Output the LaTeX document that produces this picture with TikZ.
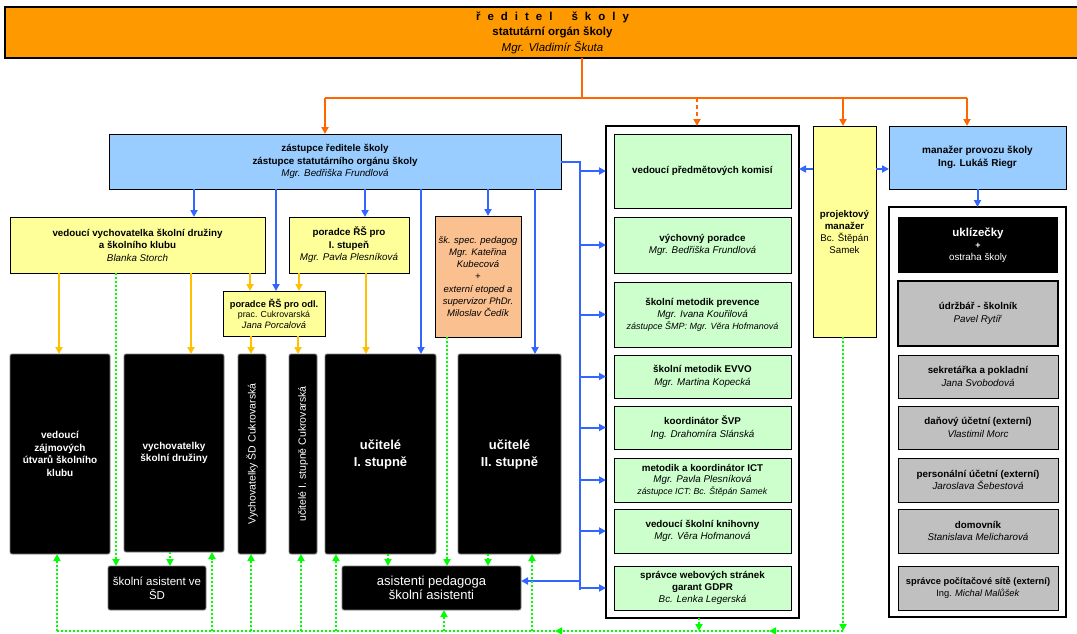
\documentclass[tikz,border=0pt]{standalone}
\usepackage{fontspec}
\setmainfont{Liberation Sans}
\usetikzlibrary{arrows.meta}
\definecolor{dirorange}{HTML}{FF9900}
\definecolor{lineorange}{HTML}{FF6600}
\definecolor{boxblue}{HTML}{99CCFF}
\definecolor{lineblue}{HTML}{3366FF}
\definecolor{boxyellow}{HTML}{FFFF99}
\definecolor{linegold}{HTML}{FFC000}
\definecolor{boxgreen}{HTML}{CCFFCC}
\definecolor{boxgray}{HTML}{C0C0C0}
\definecolor{boxpeach}{HTML}{FAC090}
\definecolor{dotgreen}{HTML}{00FF00}
\tikzset{
 base/.style={inner sep=0pt, outer sep=0pt, align=center},
 dirbox/.style={base, draw, line width=1.5pt, fill=dirorange},
 bluebox/.style={base, draw, line width=1pt, fill=boxblue},
 yelbox/.style={base, draw, line width=1pt, fill=boxyellow},
 peachbox/.style={base, draw, line width=1pt, fill=boxpeach},
 blackbox/.style={base, draw=gray, line width=0.8pt, fill=black, text=white, rounded corners=2pt},
 greenbox/.style={base, draw, line width=0.8pt, fill=boxgreen},
 graybox/.style={base, draw, line width=0.8pt, fill=boxgray},
 framebox/.style={draw, line width=1.5pt, inner sep=0pt, outer sep=0pt},
 tip/.style={-{Triangle[length=7pt,width=7pt]}},
 oline/.style={draw=lineorange, line width=2pt},
 oarrow/.style={oline, tip},
 bline/.style={draw=lineblue, line width=2pt},
 barrow/.style={bline, tip},
 garrow/.style={draw=linegold, line width=2pt, tip},
 gdot/.style={draw=dotgreen, line width=2pt, dash pattern=on 2pt off 2pt},
 gdotarrow/.style={gdot, tip},
 tnorm/.style={font=\fontsize{9.8}{12.5}\selectfont},
}
\begin{document}
\begin{tikzpicture}[x=1pt,y=-1pt]
\useasboundingbox (0,0) rectangle (1077,634);
\fill[white] (0,0) rectangle (1077,634);

% director
\node[dirbox, minimum width=1095, minimum height=51, font=\fontsize{11.5}{15.5}\selectfont] (dir) at (552.5,32.5)
 {\textbf{ř\kern7pt e\kern7pt d\kern7pt i\kern7pt t\kern7pt e\kern7pt l\kern19pt š\kern7pt k\kern7pt o\kern7pt l\kern7pt y}\\
  \textbf{statutární orgán školy}\\ \textit{Mgr. Vladimír Škuta}};

% deputy
\node[bluebox, minimum width=452, minimum height=55, tnorm] (zast) at (335,161.5)
 {\textbf{zástupce ředitele školy}\\ \textbf{zástupce statutárního orgánu školy}\\ \textit{Mgr. Bedřiška Frundlová}};

% second level
\node[yelbox, minimum width=255, minimum height=56, tnorm] (vych) at (137.5,245)
 {\textbf{vedoucí vychovatelka školní družiny}\\ \textbf{a školního klubu}\\ \textit{Blanka Storch}};
\node[yelbox, minimum width=120, minimum height=56, tnorm] (poradI) at (349,245)
 {\textbf{poradce ŘŠ pro}\\ \textbf{I. stupeň}\\ \textit{Mgr. Pavla Plesníková}};
\node[yelbox, minimum width=102, minimum height=45, font=\fontsize{9.3}{10.5}\selectfont] (poradOdl) at (274,313.5)
 {\textbf{poradce ŘŠ pro odl.}\\ {\fontsize{8.8}{10.5}\selectfont prac. Cukrovarská}\\ \textit{Jana Porcalová}};
\node[peachbox, minimum width=86, minimum height=121, font=\fontsize{9.5}{12.3}\selectfont\itshape] (spec) at (478,276.5)
 {šk. spec. pedagog\\ Mgr. Kateřina\\ Kubecová\\ +\\ externí etoped a\\ supervizor PhDr.\\ Miloslav Čedík};

% black boxes
\node[blackbox, minimum width=100, minimum height=200, font=\fontsize{10}{12.5}\selectfont\bfseries] (zajm) at (60,454)
 {vedoucí\\ zájmových\\ útvarů školního\\ klubu};
\node[blackbox, minimum width=100, minimum height=198, font=\fontsize{10}{12.5}\selectfont\bfseries] (vychSD) at (174,453)
 {vychovatelky\\ školní družiny};
\node[blackbox, minimum width=28, minimum height=200] (vychCuk) at (252,454) {};
\node[text=white, rotate=90, font=\fontsize{10.5}{12}\selectfont] at (vychCuk.center) {Vychovatelky ŠD Cukrovarská};
\node[blackbox, minimum width=28, minimum height=200] (ucitCuk) at (303,454) {};
\node[text=white, rotate=90, font=\fontsize{10.5}{12}\selectfont] at (ucitCuk.center) {učitelé I. stupně Cukrovarská};
\node[blackbox, minimum width=111, minimum height=200, font=\fontsize{13}{17}\selectfont\bfseries] (ucitI) at (380.5,454)
 {učitelé\\ I. stupně};
\node[blackbox, minimum width=103, minimum height=200, font=\fontsize{13}{17}\selectfont\bfseries] (ucitII) at (509.5,454)
 {učitelé\\ II. stupně};
\node[blackbox, minimum width=98, minimum height=44, font=\fontsize{11.5}{14}\selectfont] (asistSD) at (157,588)
 {školní asistent ve\\ ŠD};
\node[blackbox, minimum width=179, minimum height=44, font=\fontsize{13}{14.5}\selectfont] (asistPed) at (431.5,588)
 {asistenti pedagoga\\ školní asistenti};

% middle list
\node[framebox, minimum width=193, minimum height=492] (list) at (702.5,372) {};
\node[greenbox, minimum width=177, minimum height=74, tnorm] (g1) at (702.5,171) {\textbf{vedoucí předmětových komisí}};
\node[greenbox, minimum width=177, minimum height=56, tnorm] (g2) at (702.5,245)
 {\textbf{výchovný poradce}\\ \textit{Mgr. Bedřiška Frundlová}};
\node[greenbox, minimum width=177, minimum height=65, font=\fontsize{9.8}{12}\selectfont] (g3) at (702.5,314.5)
 {\textbf{školní metodik prevence}\\ \textit{Mgr. Ivana Kouřilová}\\ {\fontsize{9}{12}\selectfont\textit{zástupce ŠMP: Mgr. Věra Hofmanová}}};
\node[greenbox, minimum width=177, minimum height=43, tnorm] (g4) at (702.5,376.5)
 {\textbf{školní metodik EVVO}\\ \textit{Mgr. Martina Kopecká}};
\node[greenbox, minimum width=177, minimum height=43, tnorm] (g5) at (702.5,427.5)
 {\textbf{koordinátor ŠVP}\\ \textit{Ing. Drahomíra Slánská}};
\node[greenbox, minimum width=177, minimum height=44, font=\fontsize{9.8}{11.5}\selectfont] (g6) at (702.5,480)
 {\textbf{metodik a koordinátor ICT}\\ \textit{Mgr. Pavla Plesníková}\\ {\fontsize{8.8}{11}\selectfont\textit{zástupce ICT: Bc. Štěpán Samek}}};
\node[greenbox, minimum width=177, minimum height=44, tnorm] (g7) at (702.5,531)
 {\textbf{vedoucí školní knihovny}\\ \textit{Mgr. Věra Hofmanová}};
\node[greenbox, minimum width=177, minimum height=44, font=\fontsize{9.8}{11.8}\selectfont] (g8) at (702.5,588)
 {\textbf{správce webových stránek}\\ \textbf{garant GDPR}\\ \textit{Bc. Lenka Legerská}};

% project manager
\node[yelbox, minimum width=63, minimum height=211, font=\fontsize{9.7}{12}\selectfont] (proj) at (844.5,231.5)
 {\textbf{projektový}\\ \textbf{manažer}\\ Bc. Štěpán\\ Samek};

% operations
\node[bluebox, minimum width=177, minimum height=63, font=\fontsize{10}{13}\selectfont] (manProv) at (977.5,157.5)
 {\textbf{manažer provozu školy}\\ \textbf{Ing. Lukáš Riegr}};
\node[framebox, minimum width=177, minimum height=410] (rlist) at (977.5,412) {};
\node[base, fill=black, text=white, minimum width=160, minimum height=56] (r1) at (978,245)
 {{\fontsize{11.5}{14}\selectfont\bfseries uklízečky}\\ {\fontsize{9}{13}\selectfont\bfseries +}\\ {\fontsize{9.8}{12.5}\selectfont ostraha školy}};
\node[graybox, line width=1.5pt, minimum width=160, minimum height=65, tnorm] (r2) at (978,313.5)
 {\textbf{údržbář - školník}\\ \textit{Pavel Rytíř}};
\node[graybox, minimum width=160, minimum height=43, tnorm] (r3) at (978,376.5)
 {\textbf{sekretářka a pokladní}\\ \textit{Jana Svobodová}};
\node[graybox, minimum width=160, minimum height=43, tnorm] (r4) at (978,427.5)
 {\textbf{daňový účetní (externí)}\\ \textit{Vlastimil Morc}};
\node[graybox, minimum width=160, minimum height=44, tnorm] (r5) at (978,480)
 {\textbf{personální účetní (externí)}\\ \textit{Jaroslava Šebestová}};
\node[graybox, minimum width=160, minimum height=44, tnorm] (r6) at (978,531)
 {\textbf{domovník}\\ \textit{Stanislava Melicharová}};
\node[graybox, minimum width=160, minimum height=44, font=\fontsize{9.3}{12.5}\selectfont] (r7) at (978,588)
 {\textbf{správce počítačové sítě (externí)}\\ Ing. \textit{Michal Malůšek}};

% orange connectors
\coordinate (obus) at (582,98);
\coordinate (obusL) at (325,98);
\coordinate (obusR) at (967,98);
\draw[oline] (dir.south -| obus) -- (obus);
\draw[oline] (obusL) -- (obusR);
\draw[oarrow] (obusL) -- (obusL |- zast.north);
\draw[oarrow, dash pattern=on 4pt off 3pt] (697,98) -- (697,0 |- list.north);
\draw[oarrow] (843,98) -- (843,0 |- proj.north);
\draw[oarrow] (obusR) -- (obusR |- manProv.north);

% blue connectors
\draw[barrow] (194,0 |- zast.south) -- (194,0 |- vych.north);
\draw[barrow] (276,0 |- zast.south) -- (276,0 |- poradOdl.north);
\draw[barrow] (365,0 |- zast.south) -- (365,0 |- poradI.north);
\draw[barrow] (421,0 |- zast.south) -- (421,0 |- ucitI.north);
\draw[barrow] (488,0 |- zast.south) -- (488,0 |- spec.north);
\draw[barrow] (535,0 |- zast.south) -- (535,0 |- ucitII.north);
\coordinate (bbus) at (580,0);
\draw[bline] (zast.east) -- (bbus |- zast.east) -- (580,590);
\foreach \g in {g1,g2,g3,g4,g5,g6,g7,g8}
 \draw[barrow] (bbus |- \g) -- (list.west |- \g);
\draw[barrow] (580,581) -- (asistPed.east |- 0,581);
\draw[barrow] (proj.west |- 0,169) -- (list.east |- 0,169);
\draw[barrow] (proj.east |- 0,169) -- (manProv.west |- 0,169);
\draw[barrow] (manProv.south) -- (rlist.north);

% gold connectors
\draw[garrow] (59,0 |- vych.south) -- (59,0 |- zajm.north);
\draw[garrow] (191,0 |- vych.south) -- (191,0 |- vychSD.north);
\draw[garrow] (250,0 |- vych.south) -- (250,0 |- poradOdl.north);
\draw[garrow] (299,0 |- poradI.south) -- (299,0 |- poradOdl.north);
\draw[garrow] (251,0 |- poradOdl.south) -- (251,0 |- vychCuk.north);
\draw[garrow] (298,0 |- poradOdl.south) -- (298,0 |- ucitCuk.north);
\draw[garrow] (366,0 |- poradI.south) -- (366,0 |- ucitI.north);

% green dotted connectors
\draw[gdotarrow] (116,0 |- vych.south) -- (116,0 |- asistSD.north);
\draw[gdotarrow] (170,0 |- vychSD.south) -- (170,0 |- asistSD.north);
\draw[gdotarrow] (388,0 |- ucitI.south) -- (388,0 |- asistPed.north);
\draw[gdotarrow] (447,0 |- spec.south) -- (447,0 |- asistPed.north);
\draw[gdotarrow] (488,0 |- ucitII.south) -- (488,0 |- asistPed.north);
\coordinate (gbus) at (0,631);
\draw[gdot] (gbus -| 57,0) -- (gbus -| 555,0);
\draw[gdotarrow] (gbus -| 769,0) -- (gbus -| 555,0);
\draw[gdotarrow] (gbus -| 843,0) -- (gbus -| 769,0);
\draw[gdotarrow] (843,0 |- proj.south) -- (gbus -| 843,0);
\draw[gdotarrow] (699,0 |- list.south) -- (gbus -| 699,0);
\draw[gdotarrow] (gbus -| 57,0) -- (57,0 |- zajm.south);
\draw[gdotarrow] (gbus -| 212,0) -- (212,0 |- vychSD.south);
\draw[gdotarrow] (gbus -| 251,0) -- (251,0 |- vychCuk.south);
\draw[gdotarrow] (gbus -| 301,0) -- (301,0 |- ucitCuk.south);
\draw[gdotarrow] (gbus -| 336,0) -- (336,0 |- ucitI.south);
\draw[gdotarrow] (gbus -| 444,0) -- (444,0 |- asistPed.south);
\draw[gdotarrow] (gbus -| 532,0) -- (532,0 |- ucitII.south);
\end{tikzpicture}
\end{document}
